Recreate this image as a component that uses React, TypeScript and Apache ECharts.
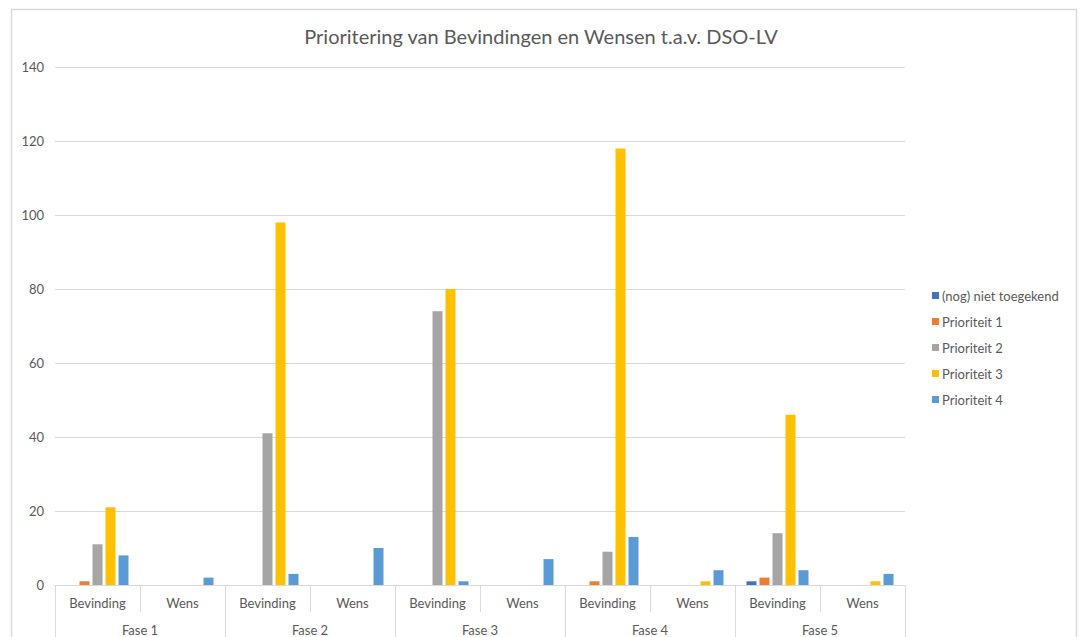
import React, { useEffect, useRef } from "react";
import * as echarts from "echarts";

const subCategories = ["Bevinding", "Wens", "Bevinding", "Wens", "Bevinding", "Wens", "Bevinding", "Wens", "Bevinding", "Wens"];
const phases = ["Fase 1", "Fase 2", "Fase 3", "Fase 4", "Fase 5"];
const yTicks = { min: 0, max: 140, interval: 20 };

const seriesNames = ["(nog) niet toegekend", "Prioriteit 1", "Prioriteit 2", "Prioriteit 3", "Prioriteit 4"];
const seriesColors = ["#4472C4", "#ED7D31", "#A5A5A5", "#FFC000", "#5B9BD5"];

const nietToegekend = [0, 0, 0, 0, 0, 0, 0, 0, 1, 0];
const prioriteit1 = [1, 0, 0, 0, 0, 0, 1, 0, 2, 0];
const prioriteit2 = [11, 0, 41, 0, 74, 0, 9, 0, 14, 0];
const prioriteit3 = [21, 0, 98, 0, 80, 0, 118, 1, 46, 1];
const prioriteit4 = [8, 2, 3, 10, 1, 7, 13, 4, 4, 3];

const seriesData = [nietToegekend, prioriteit1, prioriteit2, prioriteit3, prioriteit4];

const FONT = "Lato, 'Open Sans', sans-serif";
const TEXT = "#595959";
const LINE = "#d9d9d9";

export default function App() {
  const ref = useRef<HTMLDivElement>(null);
  useEffect(() => {
    if (!ref.current) return;
    const chart = echarts.init(ref.current, undefined, { renderer: "svg" });
    chart.setOption({
      animation: false,
      backgroundColor: "#ffffff",
      textStyle: { fontFamily: FONT },
      title: {
        text: "Prioritering van Bevindingen en Wensen t.a.v. DSO-LV",
        left: "center",
        top: 21,
        textStyle: { fontFamily: FONT, fontSize: 20, fontWeight: "normal", color: TEXT },
      },
      graphic: [
        {
          type: "rect",
          shape: { x: 11.5, y: 9.5, width: 1065, height: 640 },
          style: { fill: "none", stroke: LINE, lineWidth: 1.5 },
          silent: true,
          z: -1,
        },
      ],
      legend: {
        orient: "vertical",
        left: 927,
        top: 284,
        itemWidth: 7,
        itemHeight: 7,
        itemGap: 13,
        icon: "rect",
        textStyle: { fontFamily: FONT, fontSize: 13, color: TEXT, padding: [0, 0, 0, -2] },
        data: seriesNames,
      },
      grid: { left: 55, right: 177, top: 67, bottom: 52, containLabel: false },
      xAxis: [
        {
          type: "category",
          data: subCategories,
          position: "bottom",
          axisLine: { show: true, lineStyle: { color: LINE, width: 1 } },
          axisTick: { show: true, interval: 0, length: 27, lineStyle: { color: LINE, width: 1 } },
          axisLabel: { interval: 0, margin: 11, fontFamily: FONT, fontSize: 13, color: TEXT },
        },
        {
          type: "category",
          data: phases,
          position: "bottom",
          offset: 0,
          axisLine: { show: true, lineStyle: { color: LINE, width: 1 } },
          axisTick: { show: true, interval: 0, length: 70, lineStyle: { color: LINE, width: 1 } },
          axisLabel: { interval: 0, margin: 38, fontFamily: FONT, fontSize: 13, color: TEXT },
        },
      ],
      yAxis: {
        type: "value",
        min: yTicks.min,
        max: yTicks.max,
        interval: yTicks.interval,
        axisLine: { show: false },
        axisTick: { show: false },
        axisLabel: { margin: 11, fontFamily: FONT, fontSize: 13, color: TEXT },
        splitLine: { show: true, lineStyle: { color: LINE, width: 1 } },
      },
      series: seriesNames.map((name, i) => ({
        name,
        type: "bar",
        xAxisIndex: 0,
        data: seriesData[i],
        barWidth: 10,
        barGap: "30%",
        itemStyle: { color: seriesColors[i] },
      })),
    });
    return () => chart.dispose();
  }, []);
  return (
    <div
      ref={ref}
      style={{ position: "fixed", left: 0, top: 0, width: 1082, height: 637, background: "#fff" }}
    />
  );
}
